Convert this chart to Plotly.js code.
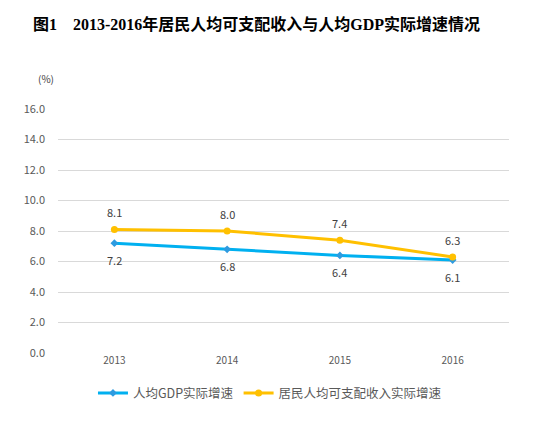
<!DOCTYPE html>
<html>
<head>
<meta charset="utf-8">
<script src="https://cdn.plot.ly/plotly-3.0.1.min.js"></script>
<style>
  html, body { margin: 0; padding: 0; background: #fff; }
  #plot { width: 547px; height: 430px; }
</style>
</head>
<body>
<div id="plot"></div>
<script>
const years = ['2013', '2014', '2015', '2016'];
const gdpGrowth = [7.2, 6.8, 6.4, 6.1];
const incomeGrowth = [8.1, 8.0, 7.4, 6.3];
const yTicks = [0, 2, 4, 6, 8, 10, 12, 14, 16];

const gdpTrace = {
  x: years,
  y: gdpGrowth,
  name: '人均GDP实际增速',
  mode: 'lines+markers',
  type: 'scatter',
  line: { color: '#00B0F0', width: 3 },
  marker: { color: '#2E9BE0', size: 6, symbol: 'diamond' },
  cliponaxis: false,
};

const incomeTrace = {
  x: years,
  y: incomeGrowth,
  name: '居民人均可支配收入实际增速',
  mode: 'lines+markers',
  type: 'scatter',
  line: { color: '#FFC000', width: 3 },
  marker: { color: '#FFC000', size: 7, symbol: 'circle' },
  cliponaxis: false,
};

// data labels, offset a little further from the points than textposition allows
const dataLabels = [];
years.forEach((yr, i) => {
  dataLabels.push({
    x: i, y: incomeGrowth[i], text: incomeGrowth[i].toFixed(1),
    xref: 'x', yref: 'y', showarrow: false, yshift: 17,
    font: { size: 11, color: '#404040' },
  });
  dataLabels.push({
    x: i, y: gdpGrowth[i], text: gdpGrowth[i].toFixed(1),
    xref: 'x', yref: 'y', showarrow: false, yshift: -17,
    font: { size: 11, color: '#404040' },
  });
});

const layout = {
  width: 547,
  height: 430,
  paper_bgcolor: '#fff',
  plot_bgcolor: '#fff',
  font: { family: '"Noto Sans CJK SC", sans-serif', color: '#595959', size: 11 },
  margin: { l: 58, r: 38, t: 109, b: 77 },
  showlegend: true,
  legend: {
    orientation: 'h',
    x: 0.47,
    xanchor: 'center',
    y: -0.165,
    yanchor: 'middle',
    font: { size: 12.5, color: '#595959' },
  },
  xaxis: {
    type: 'category',
    range: [-0.5, 3.5],
    showgrid: false,
    zeroline: false,
    showline: false,
    ticks: '',
    tickfont: { size: 10, color: '#595959' },
    fixedrange: true,
  },
  yaxis: {
    range: [0, 16],
    tickvals: yTicks,
    ticktext: yTicks.map(v => v.toFixed(1)),
    gridcolor: '#D9D9D9',
    gridwidth: 1,
    zeroline: false,
    showline: false,
    ticks: '',
    ticklabelstandoff: 12,
    tickfont: { size: 11, color: '#595959' },
    fixedrange: true,
  },
  annotations: dataLabels.concat([
    {
      text: '<b>图1　2013-2016年居民人均可支配收入与人均GDP实际增速情况</b>',
      xref: 'paper', yref: 'paper',
      x: 0.44, y: 1,
      yshift: 85,
      xanchor: 'center', yanchor: 'middle',
      showarrow: false,
      font: { family: '"Liberation Serif", "Noto Sans CJK SC", serif', size: 16, color: '#000' },
    },
    {
      text: '(%)',
      xref: 'paper', yref: 'paper',
      x: 0, xshift: -12,
      y: 1, yshift: 31,
      xanchor: 'center', yanchor: 'middle',
      showarrow: false,
      font: { size: 10, color: '#404040' },
    },
  ]),
};

Plotly.newPlot('plot', [gdpTrace, incomeTrace], layout, { displayModeBar: false, staticPlot: true });
</script>
</body>
</html>
